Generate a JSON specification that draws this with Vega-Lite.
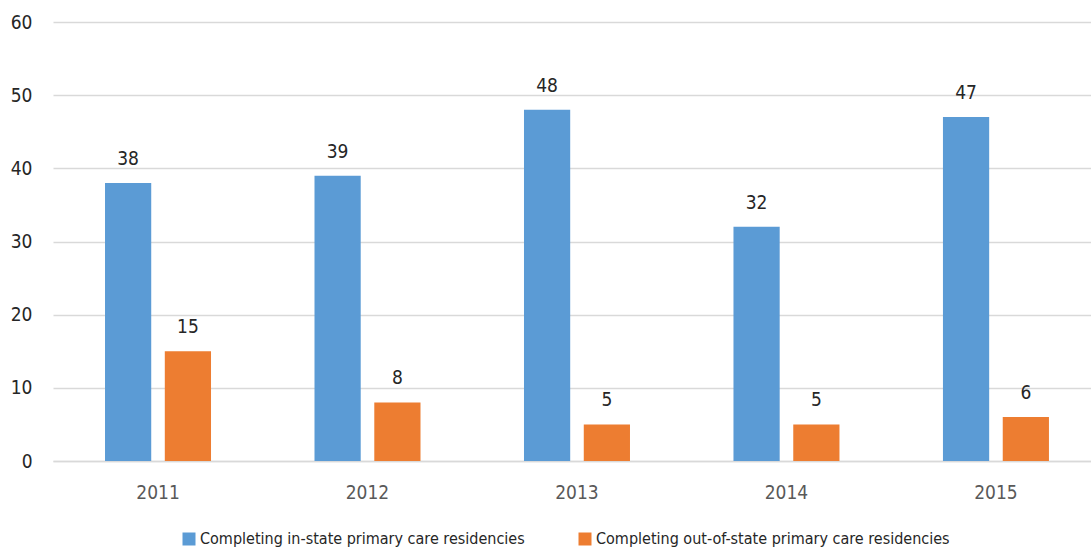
{
  "$schema": "https://vega.github.io/schema/vega-lite/v6.json",
  "width": 1038,
  "height": 439,
  "autosize": "none",
  "padding": {"left": 53, "top": 22, "right": 0, "bottom": 89},
  "background": "white",
  "config": {
    "font": "'DejaVu Sans Condensed', 'Liberation Sans Narrow', Roboto, sans-serif",
    "view": {"stroke": null}
  },
  "data": {
    "values": [
      {"year": "2011", "series": "Completing in-state primary care residencies", "value": 38},
      {"year": "2011", "series": "Completing out-of-state primary care residencies", "value": 15},
      {"year": "2012", "series": "Completing in-state primary care residencies", "value": 39},
      {"year": "2012", "series": "Completing out-of-state primary care residencies", "value": 8},
      {"year": "2013", "series": "Completing in-state primary care residencies", "value": 48},
      {"year": "2013", "series": "Completing out-of-state primary care residencies", "value": 5},
      {"year": "2014", "series": "Completing in-state primary care residencies", "value": 32},
      {"year": "2014", "series": "Completing out-of-state primary care residencies", "value": 5},
      {"year": "2015", "series": "Completing in-state primary care residencies", "value": 47},
      {"year": "2015", "series": "Completing out-of-state primary care residencies", "value": 6}
    ]
  },
  "encoding": {
    "x": {
      "field": "year",
      "type": "nominal",
      "scale": {"paddingInner": 0.494, "paddingOuter": 0.2245, "align": 0.553},
      "axis": {
        "title": null,
        "labelAngle": 0,
        "labelFontSize": 19,
        "labelColor": "#595959",
        "labelPadding": 22,
        "ticks": false,
        "domainColor": "#d9d9d9",
        "domainWidth": 1.5
      }
    },
    "xOffset": {
      "field": "series",
      "type": "nominal",
      "scale": {"paddingInner": 0.227, "paddingOuter": 0}
    },
    "y": {
      "field": "value",
      "type": "quantitative",
      "scale": {"domain": [0, 60], "nice": false},
      "axis": {
        "title": null,
        "values": [0, 10, 20, 30, 40, 50, 60],
        "labelFontSize": 19,
        "labelColor": "#262626",
        "labelPadding": 21,
        "ticks": false,
        "domain": false,
        "gridColor": "#d9d9d9",
        "gridWidth": 1.5
      }
    }
  },
  "layer": [
    {
      "mark": {"type": "bar"},
      "encoding": {
        "color": {
          "field": "series",
          "type": "nominal",
          "scale": {
            "domain": ["Completing in-state primary care residencies", "Completing out-of-state primary care residencies"],
            "range": ["#5B9BD5", "#ED7D31"]
          },
          "legend": {
            "title": null,
            "orient": "none",
            "legendX": 128,
            "legendY": 509,
            "direction": "horizontal",
            "symbolType": "square",
            "symbolSize": 169,
            "symbolStrokeWidth": 0,
            "labelFontSize": 16,
            "labelColor": "#262626",
            "labelOffset": 3,
            "labelLimit": 0,
            "columnPadding": 52
          }
        }
      }
    },
    {
      "mark": {"type": "text", "baseline": "bottom", "dy": -14, "fontSize": 19, "color": "#262626"},
      "encoding": {
        "text": {"field": "value", "type": "quantitative"}
      }
    }
  ]
}
